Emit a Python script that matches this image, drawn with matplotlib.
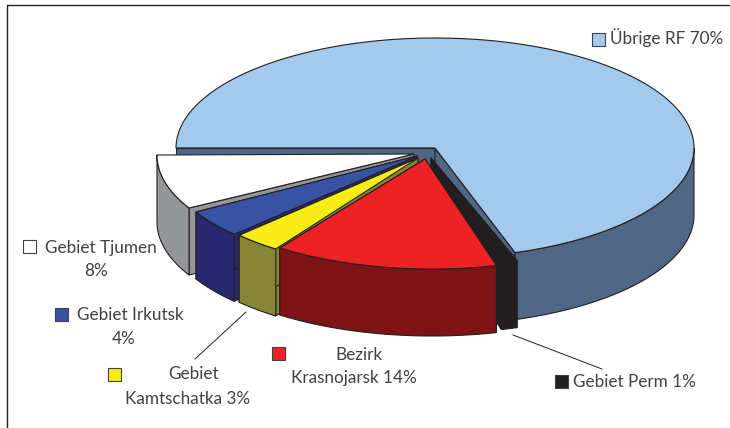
import numpy as np
import matplotlib
matplotlib.use('Agg')
import matplotlib.pyplot as plt
from matplotlib.patches import Rectangle

# shares in percent, clockwise starting from the left of the pie
names = ['Übrige RF', 'Gebiet Perm', 'Bezirk Krasnojarsk', 'Gebiet Kamtschatka', 'Gebiet Irkutsk', 'Gebiet Tjumen']
values = [70, 1, 14, 3, 4, 8]

top_colors = ['#a3c9ec', '#231f20', '#ee2224', '#f7ec13', '#3953a4', '#ffffff']
side_colors = ['#4f6784', '#231f20', '#7d1315', '#868535', '#28286f', '#939598']

# slices are pulled apart a bit, so every one has its own centre (pixels)
arc_centers = [(435, 148), (437, 156), (432, 159), (428, 160), (423, 159), (416, 155)]
apexes = [(435, 148), (431, 158), (425, 159), (418, 158), (417, 156), (414, 154)]
a, b = 259, 110
depth = 67
edge = '#231f20'
text_color = '#414042'

plt.rcParams['font.family'] = ['Lato', 'DejaVu Sans']
fig = plt.figure(figsize=(7.3, 4.28), dpi=100)
ax = fig.add_axes([0, 0, 1, 1])
ax.set_xlim(0, 730)
ax.set_ylim(428, 0)
ax.axis('off')


def arc(center, t0, t1):
    t = np.radians(np.linspace(t0, t1, 200))
    return center[0] + a * np.cos(t), center[1] - b * np.sin(t)


def draw_slice(i, t0, t1, z):
    center, apex = arc_centers[i], apexes[i]
    x, y = arc(center, t0, t1)
    # cut faces, the one at the far left of the front half stays hidden
    for px, py, t in [(x[0], y[0], t0), (x[-1], y[-1], t1)]:
        if abs(t + 180) < 1e-6:
            continue
        ax.fill([apex[0], px, px, apex[0]], [apex[1], py, py + depth, apex[1] + depth],
                fc=side_colors[i], ec=edge, lw=0.8, zorder=z)
    # outer wall, front half only
    xo, yo = arc(center, min(t0, 0), t1)
    ax.fill(np.r_[xo, xo[::-1]], np.r_[yo, yo[::-1] + depth],
            fc=side_colors[i], ec=edge, lw=0.8, zorder=z + 1)
    # top
    ax.fill(np.r_[apex[0], x], np.r_[apex[1], y],
            fc=top_colors[i], ec=edge, lw=0.8, zorder=z + 2)


angles = 180 - np.cumsum([0] + values) * 3.6
# back to front: Krasnojarsk has to come out on top of its neighbours
for n, i in enumerate([0, 1, 5, 4, 3, 2]):
    draw_slice(i, angles[i], angles[i + 1], n * 3 + 1)

# frame
ax.plot([7, 7, 730], [428, 5, 5], color='#231f20', lw=1.0, zorder=30)

# leader lines
ax.plot([513, 602], [335, 369], color='#231f20', lw=0.7, zorder=30)
ax.plot([246, 195], [312, 359], color='#231f20', lw=0.7, zorder=30)

# legend squares
squares = [(592, 33), (555, 375), (272, 347), (108, 368), (55, 308), (23, 240)]
for i, (sx, sy) in enumerate(squares):
    ax.add_patch(Rectangle((sx, sy), 13, 13, fc=top_colors[i], ec='#414042', lw=0.8, zorder=31))

# labels
labels = [
    (610, 38, f'Übrige RF {values[0]}%', 'left'),
    (573, 382, f'Gebiet Perm {values[1]}%', 'left'),
    (359, 355, 'Bezirk', 'center'),
    (354, 378, f'Krasnojarsk {values[2]}%', 'center'),
    (194, 374, 'Gebiet', 'center'),
    (188, 399, f'Kamtschatka {values[3]}%', 'center'),
    (77, 315, 'Gebiet Irkutsk', 'left'),
    (124, 339, f'{values[4]}%', 'center'),
    (45, 248, 'Gebiet Tjumen', 'left'),
    (96, 271, f'{values[5]}%', 'center'),
]
for tx, ty, s, ha in labels:
    ax.text(tx, ty, s, ha=ha, va='center', fontsize=12.3, color=text_color, zorder=32)

fig.savefig('out.png', dpi=100)
